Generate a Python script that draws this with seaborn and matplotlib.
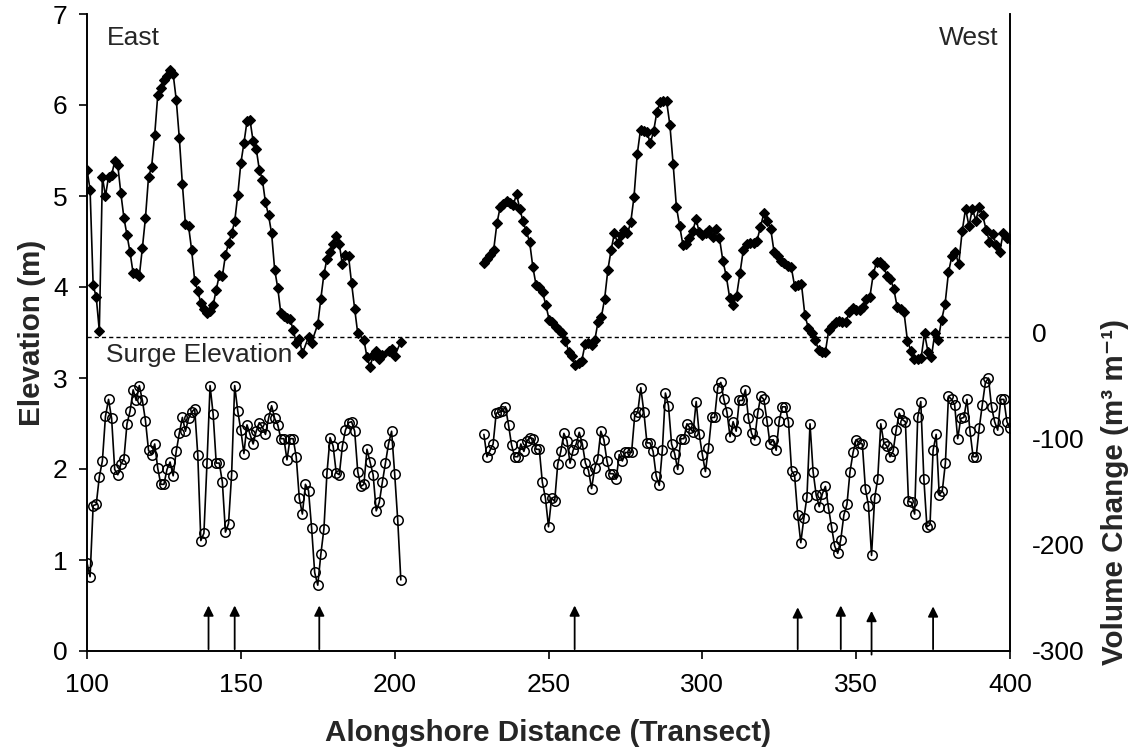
import numpy as np
import matplotlib
matplotlib.use("Agg")
import matplotlib.pyplot as plt
import seaborn as sns

# beach elevation (m), diamonds, left axis
east_top_x = list(range(100, 171)) + [172, 173, 175, 176, 177, 178, 179, 180, 181, 182,
                                      183, 184, 185, 186, 187, 188, 190, 191, 192, 193,
                                      194, 195, 196, 198, 199, 200, 202]
east_top = [5.29, 5.07, 4.02, 3.89, 3.52, 5.21, 5.00, 5.21, 5.23, 5.38,
            5.34, 5.03, 4.76, 4.57, 4.38, 4.15, 4.15, 4.12, 4.43, 4.76,
            5.21, 5.32, 5.67, 6.11, 6.19, 6.28, 6.32, 6.38, 6.34, 6.06,
            5.64, 5.13, 4.69, 4.67, 4.41, 4.07, 3.96, 3.82, 3.76, 3.71,
            3.74, 3.80, 3.97, 4.13, 4.12, 4.35, 4.48, 4.59, 4.72, 5.01,
            5.36, 5.58, 5.82, 5.83, 5.60, 5.52, 5.29, 5.18, 4.93, 4.79,
            4.59, 4.19, 3.99, 3.71, 3.68, 3.66, 3.65, 3.53, 3.39, 3.43,
            3.27, 3.45, 3.39, 3.59, 3.87, 4.14, 4.31, 4.39, 4.47, 4.56,
            4.47, 4.25, 4.35, 4.34, 4.04, 3.76, 3.49, 3.42, 3.23, 3.12,
            3.25, 3.30, 3.21, 3.25, 3.30, 3.32, 3.24, 3.40]

west_top_a = [4.26, 4.31, 4.35, 4.41, 4.70, 4.88, 4.91, 4.94, 4.92, 4.90,
              5.02, 4.86, 4.72, 4.61, 4.50, 4.22, 4.02, 4.00, 3.94, 3.80,
              3.64, 3.61, 3.56, 3.53, 3.50, 3.41, 3.29, 3.24, 3.14, 3.17,
              3.19, 3.37, 3.39, 3.36, 3.42, 3.62, 3.67, 3.87, 4.19, 4.41,
              4.59, 4.48, 4.57, 4.63, 4.59, 4.71, 4.99, 5.46, 5.73, 5.71,
              5.70, 5.58, 5.71, 5.92, 6.03, 6.04, 6.04, 5.78, 5.35, 4.88,
              4.67, 4.46, 4.47, 4.54, 4.61, 4.75, 4.60]
west_top_b = [4.57, 4.59, 4.63, 4.55, 4.64, 4.54, 4.29, 4.12, 3.88, 3.80,
              3.90, 4.15, 4.41, 4.47, 4.48, 4.48, 4.51, 4.66, 4.81, 4.73,
              4.64, 4.38, 4.34, 4.29, 4.26, 4.23, 4.22, 4.01, 4.02, 4.03,
              3.69, 3.55, 3.49, 3.42, 3.31, 3.29, 3.29, 3.53, 3.57, 3.61,
              3.63, 3.62, 3.62, 3.72, 3.77, 3.75, 3.75, 3.78, 3.87, 3.89,
              4.14, 4.28, 4.28, 4.23, 4.12, 4.09, 3.98, 3.78, 3.76, 3.72,
              3.41, 3.30, 3.21, 3.21, 3.22, 3.49, 3.29, 3.23, 3.49, 3.42,
              3.64, 3.81, 4.16, 4.34, 4.38, 4.25, 4.61, 4.86, 4.67, 4.86,
              4.73, 4.88, 4.79, 4.63, 4.50, 4.58, 4.46, 4.39, 4.59, 4.54,
              4.53]
west_top_x = np.concatenate([np.linspace(229, 299, len(west_top_a)),
                             np.linspace(300, 400, len(west_top_b))])
west_top = west_top_a + west_top_b

# volume change (m3/m), open circles, right axis
east_vol_x = list(range(100, 203))
east_vol = [-217, -230, -163, -162, -136, -121, -79, -63, -81, -129,
            -134, -124, -119, -86, -74, -54, -64, -50, -64, -83,
            -111, -115, -105, -128, -143, -143, -129, -122, -135, -112,
            -95, -80, -93, -81, -75, -72, -115, -196, -189, -123,
            -50, -77, -123, -123, -141, -188, -180, -134, -50, -74,
            -92, -114, -87, -96, -105, -93, -85, -89, -96, -81,
            -69, -81, -87, -100, -100, -120, -100, -100, -117, -156,
            -171, -143, -149, -184, -226, -238, -209, -185, -132, -99,
            -107, -132, -134, -107, -92, -85, -84, -93, -131, -145,
            -143, -110, -122, -134, -168, -160, -141, -123, -105, -93,
            -133, -177, -233]

west_vol_x = list(range(229, 402))
west_vol = [-96, -117, -111, -105, -76, -75, -74, -70, -87, -106,
            -117, -117, -105, -112, -102, -99, -100, -110, -110, -141,
            -156, -183, -156, -159, -124, -112, -95, -102, -123, -111,
            -105, -94, -105, -123, -130, -147, -128, -119, -93, -101,
            -121, -133, -133, -138, -115, -121, -113, -113, -113, -79,
            -75, -52, -75, -104, -104, -112, -135, -144, -111, -57,
            -69, -105, -114, -129, -100, -100, -86, -90, -94, -65,
            -96,
            -115, -131, -109, -80, -80, -52, -47, -63, -75, -98,
            -84, -93, -64, -64, -54, -81, -95, -101, -76, -60,
            -63, -83, -105, -101, -111, -83, -70, -70, -84, -130,
            -135, -172, -198, -175, -155, -86, -131, -153, -164, -152,
            -145, -165, -183, -201, -208, -195, -172, -162, -131, -113,
            -101, -104, -105, -147, -163, -210, -156, -138, -86, -104,
            -107, -117, -112, -92, -76, -82, -84, -159, -160, -171,
            -80, -65, -138, -183, -181, -111, -96, -153, -149, -123,
            -60, -63, -68, -100, -81, -80, -63, -93, -117, -117,
            -90, -68, -47, -43, -70, -84, -92, -63, -63, -84,
            -90, -133]

surge_level = 3.45

arrow_x = [139.5, 148, 175.5, 258.5, 331, 345, 355, 375]
arrow_base = [0.02, 0.02, 0.02, 0.02, 0.02, 0.02, -0.04, 0.02]
arrow_tip = [0.50, 0.50, 0.50, 0.50, 0.48, 0.50, 0.44, 0.49]

sns.set_style("ticks")
plt.rcParams["font.family"] = ["Liberation Sans", "DejaVu Sans"]
plt.rcParams["axes.unicode_minus"] = False

fig = plt.figure(figsize=(11.39, 7.51), dpi=100)
ax = fig.add_axes([87 / 1139, 100 / 751, 923 / 1139, 637 / 751])
ax2 = ax.twinx()

top_kw = dict(color="black", linewidth=1.2, marker="D", markersize=5.2,
              markeredgecolor="black", markerfacecolor="black", markeredgewidth=0.8,
              estimator=None, sort=False, legend=False)
sns.lineplot(x=east_top_x, y=east_top, ax=ax, **top_kw)
sns.lineplot(x=west_top_x, y=west_top, ax=ax, **top_kw)

vol_kw = dict(color="black", linewidth=1.2, marker="o", markersize=6.8,
              markeredgecolor="black", markerfacecolor="none", markeredgewidth=1.1,
              estimator=None, sort=False, legend=False)
sns.lineplot(x=east_vol_x, y=east_vol, ax=ax2, **vol_kw)
sns.lineplot(x=west_vol_x, y=west_vol, ax=ax2, markevery=list(range(len(west_vol) - 1)), **vol_kw)

ax.axhline(surge_level, color="black", linewidth=1.0, linestyle=(0, (3, 2.2)))

for x, b, t in zip(arrow_x, arrow_base, arrow_tip):
    ax.annotate("", xy=(x, t), xytext=(x, b), annotation_clip=False,
                arrowprops=dict(arrowstyle="-|>", color="black", lw=1.3,
                                mutation_scale=15, shrinkA=0, shrinkB=0))

ax.set_xlim(100, 400)
ax.set_ylim(0, 7)
ax2.set_ylim(-300, 300)
ax.set_xticks(range(100, 401, 50))
ax.set_yticks(range(0, 8))
ax2.set_yticks([-300, -200, -100, 0])

for a in (ax, ax2):
    a.spines["top"].set_visible(False)
    for s in a.spines.values():
        s.set_linewidth(1.2)
        s.set_color("black")
ax.tick_params(direction="out", length=6, width=1.2, labelsize=19, pad=8, colors="black")
ax.tick_params(axis="x", pad=10)
ax2.tick_params(axis="y", length=0, pad=16, labelsize=19, colors="black")

ax.set_xlabel("Alongshore Distance (Transect)", fontsize=21.3, fontweight="bold")
ax.set_ylabel("Elevation (m)", fontsize=21.3, fontweight="bold")
ax2.set_ylabel("Volume Change (m³ m⁻¹)", fontsize=21.3, fontweight="bold")
ax.xaxis.set_label_coords(0.5, -0.106)
ax.yaxis.set_label_coords(-0.044, 0.5)
ax2.yaxis.set_label_coords(1.099, 0.25)

ax.text(0.021, 0.962, "East", transform=ax.transAxes, fontsize=19, va="center", ha="left")
ax.text(0.988, 0.962, "West", transform=ax.transAxes, fontsize=19, va="center", ha="right")
ax.text(0.021, 3.25, "Surge Elevation", transform=ax.get_yaxis_transform(), fontsize=19,
        va="center", ha="left")

fig.savefig("out.png", dpi=100)
